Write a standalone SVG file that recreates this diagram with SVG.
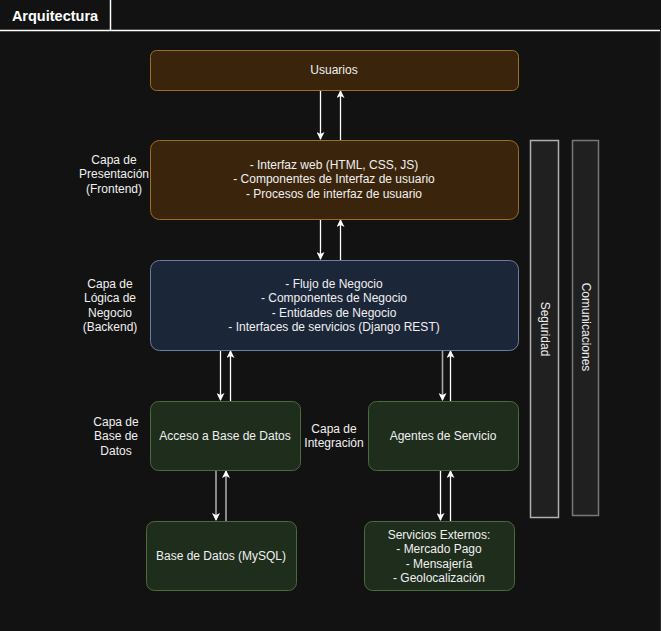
<svg xmlns="http://www.w3.org/2000/svg" width="661" height="631" viewBox="0 0 661 631">
<defs>
<style>
text{font-family:"Liberation Sans",Arial,sans-serif;font-size:12px;fill:#f0f0f0;text-anchor:middle}
.brown{fill:#3a250c;stroke:#9a6e24;stroke-width:1}
.blue{fill:#1c2639;stroke:#6d7d9c;stroke-width:1}
.green{fill:#1f2d1d;stroke:#4d6a3c;stroke-width:1}
.bar1{fill:#202020;stroke:#b0b0b0;stroke-width:1.5}
.bar2{fill:#202020;stroke:#787878;stroke-width:1.5}
.w{stroke:#ffffff;stroke-width:1.3;fill:none}
.g{stroke:#a8a8a8;stroke-width:1.6;fill:none}
</style>
<marker id="ah" markerWidth="8" markerHeight="8" refX="7" refY="4" orient="auto" markerUnits="userSpaceOnUse" viewBox="0 0 8 8">
<path d="M0,0 L8,4 L0,8 L2,4 Z" fill="#ffffff"/>
</marker>
</defs>
<rect x="0" y="0" width="661" height="631" fill="#121212"/>
<g id="frame">
<path d="M0,30.5 H660" stroke="#ffffff" stroke-width="1.5" fill="none"/>
<path d="M110.5,0 V30" stroke="#ffffff" stroke-width="1.5" fill="none"/>
<path d="M660.5,30 V631" stroke="#2a2a2a" stroke-width="1" fill="none"/>
<text x="55" y="21" style="font-size:14.5px;font-weight:bold;fill:#ffffff">Arquitectura</text>
</g>
<g id="connectors">
<line class="w" x1="320.5" y1="90" x2="320.5" y2="139" marker-end="url(#ah)"/>
<line class="w" x1="340.5" y1="140" x2="340.5" y2="91" marker-end="url(#ah)"/>
<line class="w" x1="320.5" y1="219" x2="320.5" y2="259" marker-end="url(#ah)"/>
<line class="w" x1="340.5" y1="260" x2="340.5" y2="220" marker-end="url(#ah)"/>
<line class="w" x1="220.5" y1="350" x2="220.5" y2="400" marker-end="url(#ah)"/>
<line class="w" x1="230.5" y1="401" x2="230.5" y2="351" marker-end="url(#ah)"/>
<line class="g" x1="442.5" y1="350" x2="442.5" y2="400" marker-end="url(#ah)"/>
<line class="w" x1="450.5" y1="401" x2="450.5" y2="351" marker-end="url(#ah)"/>
<line class="g" x1="216" y1="470" x2="216" y2="520" marker-end="url(#ah)"/>
<line class="g" x1="226" y1="521" x2="226" y2="471" marker-end="url(#ah)"/>
<line class="w" x1="440.5" y1="470" x2="440.5" y2="520" marker-end="url(#ah)"/>
<line class="w" x1="450.5" y1="521" x2="450.5" y2="471" marker-end="url(#ah)"/>
</g>
<g id="usuarios">
<rect class="brown" x="150.5" y="50.5" width="368" height="40" rx="6"/>
<text x="334" y="74">Usuarios</text>
</g>
<g id="presentacion">
<rect class="brown" x="150.5" y="140.5" width="368" height="79" rx="9"/>
<text x="334" y="169">- Interfaz web (HTML, CSS, JS)</text>
<text x="334" y="183">- Componentes de Interfaz de usuario</text>
<text x="334" y="198">- Procesos de interfaz de usuario</text>
</g>
<g id="logica">
<rect class="blue" x="150.5" y="260.5" width="368" height="90" rx="9"/>
<text x="334" y="288">- Flujo de Negocio</text>
<text x="334" y="302">- Componentes de Negocio</text>
<text x="334" y="317">- Entidades de Negocio</text>
<text x="334" y="331">- Interfaces de servicios (Django REST)</text>
</g>
<g id="acceso">
<rect class="green" x="150.5" y="401.5" width="150" height="69" rx="8"/>
<text x="225" y="440">Acceso a Base de Datos</text>
</g>
<g id="agentes">
<rect class="green" x="368.5" y="401.5" width="150" height="69" rx="8"/>
<text x="443" y="440">Agentes de Servicio</text>
</g>
<g id="basedatos">
<rect class="green" x="146.5" y="521.5" width="150" height="69" rx="8"/>
<text x="221" y="560">Base de Datos (MySQL)</text>
</g>
<g id="externos">
<rect class="green" x="364.5" y="521.5" width="150" height="69" rx="8"/>
<text x="439" y="539">Servicios Externos:</text>
<text x="439" y="553">- Mercado Pago</text>
<text x="439" y="568">- Mensajería</text>
<text x="439" y="582">- Geolocalización</text>
</g>
<g id="seguridad">
<rect class="bar1" x="530.5" y="140.5" width="28" height="377"/>
<text transform="translate(544.5,329) rotate(90)" x="0" y="4">Seguridad</text>
</g>
<g id="comunicaciones">
<rect class="bar2" x="572.5" y="140.5" width="26" height="375"/>
<text transform="translate(585.5,327) rotate(90)" x="0" y="4">Comunicaciones</text>
</g>
<g id="labels">
<text x="114" y="164">Capa de</text>
<text x="114" y="178">Presentación</text>
<text x="114" y="193">(Frontend)</text>
<text x="110" y="288">Capa de</text>
<text x="110" y="302">Lógica de</text>
<text x="110" y="317">Negocio</text>
<text x="110" y="331">(Backend)</text>
<text x="116" y="426">Capa de</text>
<text x="116" y="440">Base de</text>
<text x="116" y="455">Datos</text>
<text x="334" y="433">Capa de</text>
<text x="334" y="447">Integración</text>
</g>
</svg>
